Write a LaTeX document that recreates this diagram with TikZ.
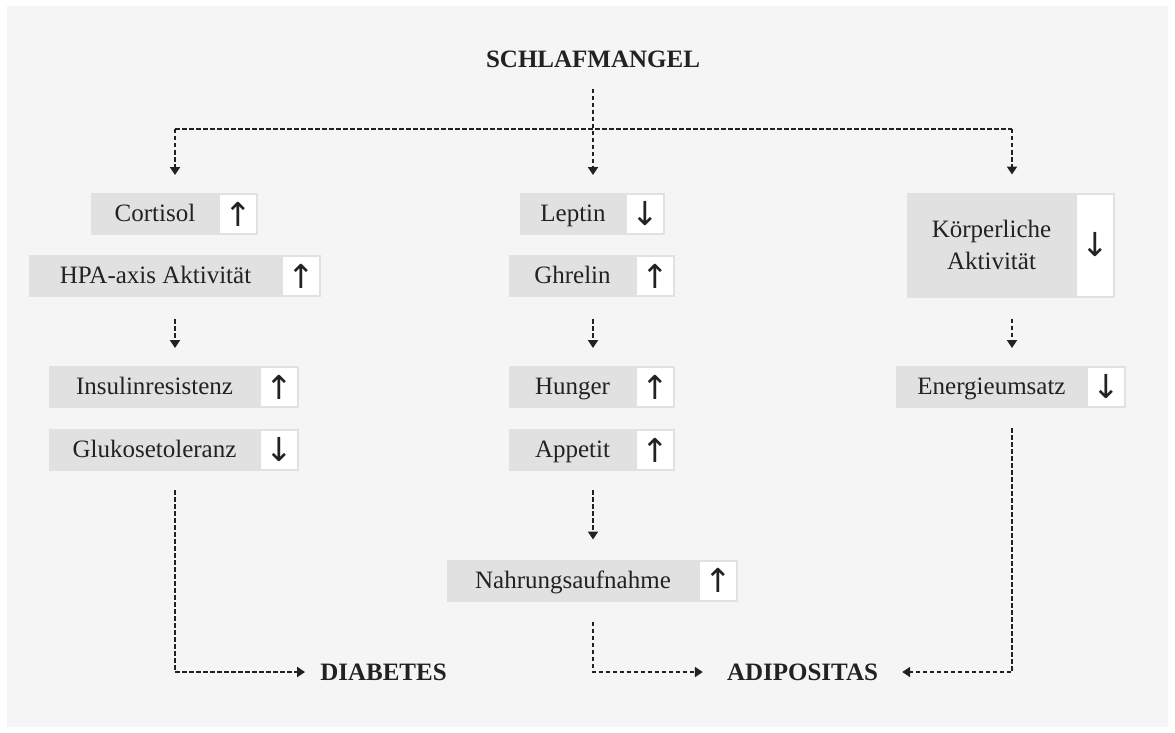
\documentclass[tikz,border=0pt]{standalone}
\usepackage{fontspec}
\setmainfont{Liberation Serif}
\newfontfamily\arrowfont{DejaVu Sans}
\usetikzlibrary{positioning,arrows.meta}

\definecolor{bggray}{HTML}{F5F5F5}
\definecolor{boxgray}{HTML}{E1E1E1}
\definecolor{ink}{HTML}{222222}

\tikzset{
  factor/.style={fill=boxgray,text=ink,inner sep=0pt,outer sep=0pt,minimum height=42,
    text height=20,text depth=5,font=\fontsize{25}{32}\selectfont},
  trend/.style={fill=white,draw=boxgray,line width=2,inner sep=0pt,outer sep=0pt,
    minimum width=38,minimum height=40,text=ink,font=\arrowfont\fontsize{33}{34}\selectfont},
  headline/.style={text=ink,inner sep=0pt,font=\fontsize{25}{30}\selectfont\bfseries},
  link/.style={draw=ink,line width=2.4,dash pattern=on 4.5pt off 2.5pt},
  flow/.style={link,-{Triangle[width=10pt,length=8pt]}}
}

\begin{document}
\begin{tikzpicture}[x=1pt,y=-1pt]

 \useasboundingbox (0,0) rectangle (1175,733);
 \fill[bggray] (7,6) rectangle (1168,727);

 \coordinate (colL) at (175,129);
 \coordinate (colM) at (593,129);
 \coordinate (colR) at (1012,129);

 \node[headline] (schlaf) at (593,59) {SCHLAFMANGEL};
 \node[headline] (diabetes) at (383.5,672) {DIABETES};
 \node[headline] (adipositas) at (802.5,672) {ADIPOSITAS};

 \node[factor,minimum width=128] (cortisol) at (155,214) {Cortisol};
 \node[factor,minimum width=253] (hpa) at (155.5,276) {HPA-axis Aktivität};
 \node[factor,minimum width=211] (insulin) at (154.5,387) {Insulinresistenz};
 \node[factor,minimum width=211] (glukose) at (154.5,450) {Glukosetoleranz};

 \node[factor,minimum width=106] (leptin) at (573,214) {Leptin};
 \node[factor,minimum width=127] (ghrelin) at (572.5,276) {Ghrelin};
 \node[factor,minimum width=127] (hunger) at (572.5,387) {Hunger};
 \node[factor,minimum width=127] (appetit) at (572.5,450) {Appetit};
 \node[factor,minimum width=252] (nahrung) at (573,580.5) {Nahrungsaufnahme};

 \node[factor,minimum width=169,minimum height=105,text height={},text depth={},
   align=center] (koerper) at (991.5,245) {Körperliche\\Aktivität};
 \node[factor,minimum width=191] (energie) at (991.5,387) {Energieumsatz};

 \node[trend,right=0pt of cortisol] (cortisol-t) {↑};
 \node[trend,right=0pt of hpa] (hpa-t) {↑};
 \node[trend,right=0pt of insulin] (insulin-t) {↑};
 \node[trend,right=0pt of glukose] (glukose-t) {↓};
 \node[trend,right=0pt of leptin] (leptin-t) {↓};
 \node[trend,right=0pt of ghrelin] (ghrelin-t) {↑};
 \node[trend,right=0pt of hunger] (hunger-t) {↑};
 \node[trend,right=0pt of appetit] (appetit-t) {↑};
 \node[trend,right=0pt of nahrung] (nahrung-t) {↑};
 \node[trend,right=0pt of koerper,minimum height=103] (koerper-t) {↓};
 \node[trend,right=0pt of energie] (energie-t) {↓};

 \draw[link] (colL) -- (colR);
 \draw[flow] ([yshift=-21]schlaf.south) -- ([yshift=18]leptin.north -| colM);
 \draw[flow] (colL) -- ([yshift=18]cortisol.north -| colL);
 \draw[flow] (colR) -- ([yshift=18]koerper.north -| colR);

 \draw[flow] ([yshift=-22]hpa.south -| colL) -- ([yshift=18]insulin.north -| colL);
 \draw[flow] ([yshift=-22]ghrelin.south -| colM) -- ([yshift=18]hunger.north -| colM);
 \draw[flow] ([yshift=-21]koerper.south -| colR) -- ([yshift=18]energie.north -| colR);
 \draw[flow] ([yshift=-19]appetit.south -| colM) -- ([yshift=20]nahrung.north -| colM);

 \draw[flow,shorten >=15pt] ([yshift=-19]glukose.south -| colL) |- (diabetes.west);
 \draw[flow,shorten >=24pt] ([yshift=-20]nahrung.south -| colM) |- (adipositas.west);
 \draw[flow,shorten >=24pt] ([yshift=-20]energie.south -| colR) |- (adipositas.east);

\end{tikzpicture}
\end{document}
